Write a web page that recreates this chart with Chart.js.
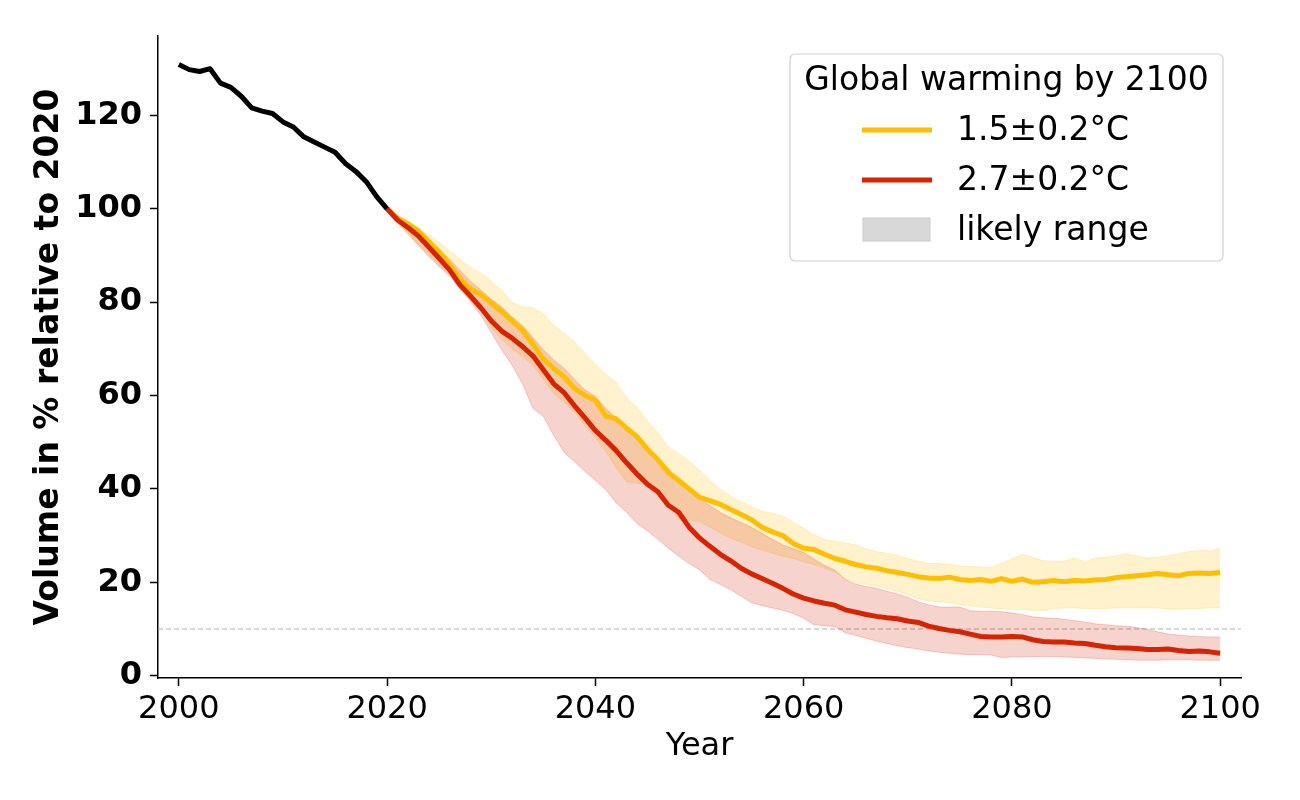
<!DOCTYPE html>
<html>
<head>
<meta charset="utf-8">
<title>Glacier volume projection</title>
<script src="https://cdn.jsdelivr.net/npm/chart.js@4.4.1/dist/chart.umd.min.js"></script>
<style>
    html, body { margin: 0; padding: 0; background: #fff; }
    #chart { display: block; }
</style>
</head>
<body>
<canvas id="chart" width="1300" height="800"></canvas>
<script>
// observed volume, % of 2020
const histYears = [2000, 2001, 2002, 2003, 2004, 2005, 2006, 2007, 2008, 2009, 2010,
    2011, 2012, 2013, 2014, 2015, 2016, 2017, 2018, 2019, 2020];
const histVolume = [130.9, 129.8, 129.4, 130.0, 126.9, 126.0, 124.1, 121.6, 120.9, 120.4, 118.6,
    117.5, 115.4, 114.3, 113.2, 112.1, 109.7, 108.0, 105.8, 102.6, 100];

// projections 2020-2100
const projYears = [2020, 2021, 2022, 2023, 2024, 2025, 2026, 2027, 2028, 2029,
    2030, 2031, 2032, 2033, 2034, 2035, 2036, 2037, 2038, 2039,
    2040, 2041, 2042, 2043, 2044, 2045, 2046, 2047, 2048, 2049,
    2050, 2051, 2052, 2053, 2054, 2055, 2056, 2057, 2058, 2059,
    2060, 2061, 2062, 2063, 2064, 2065, 2066, 2067, 2068, 2069,
    2070, 2071, 2072, 2073, 2074, 2075, 2076, 2077, 2078, 2079,
    2080, 2081, 2082, 2083, 2084, 2085, 2086, 2087, 2088, 2089,
    2090, 2091, 2092, 2093, 2094, 2095, 2096, 2097, 2098, 2099, 2100];

const low15Mean = [100, 98, 96.8, 95.3, 93, 90.8, 88, 85, 82.8, 81.6,
    79.8, 78, 76, 74, 71, 67.8, 65.8, 64, 61.5, 60,
    59, 55.6, 55, 53, 51.2, 48.5, 46.3, 43.5, 41.8, 40,
    38.2, 37.5, 36.7, 35.6, 34.5, 33.4, 31.8, 30.8, 30, 28.3,
    27.3, 27, 26, 25.1, 24.5, 23.8, 23.3, 23, 22.5, 22.1,
    21.7, 21.2, 20.9, 20.8, 21.1, 20.6, 20.4, 20.6, 20.2, 20.8,
    20.2, 20.7, 20.0, 20.1, 20.4, 20.1, 20.4, 20.3, 20.5, 20.6,
    21.0, 21.2, 21.4, 21.6, 21.9, 21.6, 21.4, 21.9, 22.0, 21.9, 22.1];
const low15Upper = [100, 98.5, 97, 95.6, 94.5, 92.8, 91, 89.2, 87.4, 86.3,
    84.5, 82.5, 80, 79, 78.8, 77.5, 75, 73.4, 71.5, 69,
    66.8, 64.5, 62.8, 59.5, 57.5, 54.5, 52, 49, 47.6, 46,
    44, 41.8, 40, 38.4, 37.2, 36.2, 35.2, 34.8, 34.2, 32.8,
    31.6, 30.2, 29.2, 28.8, 28.4, 28, 27.2, 26.6, 26.2, 25.8,
    25.1, 24.5, 24.1, 24.0, 23.8, 23.5, 23.4, 23.2, 23.1, 24.1,
    25.0, 26.0, 25.3, 24.6, 24.5, 24.5, 25.2, 24.4, 25.2, 25.4,
    25.7, 26.1, 25.7, 25.2, 25.4, 25.7, 26.1, 26.6, 26.8, 26.7, 27.3];
const low15Lower = [100, 96.8, 94.2, 92.4, 90.2, 88, 86, 83.6, 81, 78.5,
    74.5, 72, 70, 68.4, 66.5, 63.5, 60.5, 58.5, 56.5, 53.5,
    51, 48, 44.5, 41.5, 41.2, 41, 39.5, 37, 33.5, 33.3,
    33, 31.8, 30.6, 29.4, 28.6, 27.6, 26.9, 26.2, 25.6, 25.1,
    24.4, 23.8, 23, 22.2, 20.8, 19.9, 19.6, 19.2, 18.6, 18.1,
    17.3, 16.5, 16.0, 15.8, 15.6, 15.2, 14.9, 14.7, 14.5, 14.3,
    14.2, 14.1, 14.0, 13.9, 14.4, 14.5, 14.5, 14.4, 14.4, 14.4,
    14.5, 14.5, 14.5, 14.5, 14.5, 14.3, 14.3, 14.4, 14.4, 14.5, 14.5];

const high27Mean = [100, 97.6, 96, 94.2, 91.8, 89.4, 86.9, 83.7, 81.3, 78.8,
    76, 73.8, 72.3, 70.5, 68.5, 65.5, 62.5, 60.6, 57.8, 55.2,
    52.5, 50.4, 48.2, 45.6, 43.2, 41, 39.4, 36.5, 35, 31.8,
    29.5, 27.7, 26, 24.6, 23, 21.8, 20.8, 19.8, 18.7, 17.5,
    16.6, 16, 15.5, 15.1, 14.1, 13.6, 13.1, 12.7, 12.4, 12.2,
    11.7, 11.4, 10.6, 10.1, 9.7, 9.4, 8.9, 8.4, 8.3, 8.3,
    8.4, 8.3, 7.7, 7.3, 7.2, 7.2, 7.0, 6.9, 6.5, 6.2,
    6.0, 5.9, 5.8, 5.6, 5.6, 5.7, 5.4, 5.2, 5.3, 5.1, 4.8];
const high27Upper = [100, 98.6, 97.2, 95.8, 93.6, 91.2, 89.2, 86.8, 84.5, 82.6,
    80.6, 79, 76.8, 75, 72.4, 69.8, 67.6, 65.8, 63.4, 61.2,
    59.8, 57.2, 55.2, 52.6, 50.5, 48.5, 46.5, 44.5, 41.5, 39.5,
    38, 36.4, 35, 33.8, 32.8, 31.8, 30.5, 29.2, 28, 27.2,
    26.4, 25, 23.6, 22.6, 20.6, 19.6, 19.1, 18.7, 18.1, 17.5,
    16.8, 15.8, 15.2, 14.7, 14.7, 14.7, 13.9, 13.8, 13.8, 13.7,
    13.4, 13.1, 12.6, 12.4, 12.3, 12.1, 11.8, 11.5, 11.1, 10.9,
    10.7, 10.6, 10.3, 9.9, 9.4, 8.9, 8.7, 8.5, 8.4, 8.3, 8.3];
const high27Lower = [100, 97.2, 94.8, 92.2, 89.8, 87.6, 85.6, 82.8, 80.2, 77.2,
    73.5, 69.8, 66.5, 62.5, 57.3, 55.5, 51.5, 47.8, 45.8, 43.8,
    41.8, 39.8, 37, 35, 32.6, 31, 29.2, 27.3, 25.6, 24,
    22.7, 20.6, 19.5, 18.4, 17, 15.6, 15.0, 14.5, 14.0, 13.3,
    12.3, 10.9, 10.7, 10.5, 9.2, 8.6, 8.0, 7.4, 6.9, 6.4,
    6.0, 5.7, 5.3, 5.0, 4.8, 4.6, 4.5, 4.5, 4.4, 3.9,
    4.0, 4.0, 4.1, 4.1, 4.1, 4.0, 3.9, 3.8, 3.7, 3.6,
    3.5, 3.4, 3.3, 3.3, 3.3, 3.4, 3.4, 3.4, 3.3, 3.3, 3.3];

const xTicks = [2000, 2020, 2040, 2060, 2080, 2100];
const yTicks = [0, 20, 40, 60, 80, 100, 120];
const thresholdLevel = 10;

const legendTitle = 'Global warming by 2100';
const seriesLabels = ['1.5\u00b10.2\u00b0C', '2.7\u00b10.2\u00b0C', 'likely range'];

const FONT = '"DejaVu Sans", sans-serif';
const YELLOW = '#ffbf00';
const RED = '#d42400';
const YELLOW_BAND = 'rgba(255, 191, 0, 0.2)';
const RED_BAND = 'rgba(212, 36, 0, 0.2)';
const LINE_WIDTH = 5;

const toPoints = (years, values) => years.map((year, i) => ({x: year, y: values[i]}));

function lineSet(label, years, values, color, order) {
    return {
        label: label,
        data: toPoints(years, values),
        borderColor: color,
        borderWidth: LINE_WIDTH,
        borderJoinStyle: 'round',
        pointRadius: 0,
        fill: false,
        order: order
    };
}

function bandEdge(label, values, color, order, target) {
    return {
        label: label,
        data: toPoints(projYears, values),
        borderColor: color,
        borderWidth: 1,
        backgroundColor: color,
        pointRadius: 0,
        fill: target === undefined ? false : target,
        order: order
    };
}

// dashed reference line across the whole plot area
const thresholdPlugin = {
    id: 'threshold',
    beforeDatasetsDraw(chart) {
        const {ctx, chartArea, scales} = chart;
        const y = scales.y.getPixelForValue(thresholdLevel);
        ctx.save();
        ctx.strokeStyle = '#b0b0b0';
        ctx.lineWidth = 1;
        ctx.setLineDash([5, 3]);
        ctx.beginPath();
        ctx.moveTo(chartArea.left, y);
        ctx.lineTo(chartArea.right, y);
        ctx.stroke();
        ctx.restore();
    }
};

// matplotlib style legend box in the upper right corner
const legendPlugin = {
    id: 'warmingLegend',
    afterDraw(chart) {
        const {ctx, chartArea} = chart;
        const boxW = 433;
        const boxH = 207;
        const x0 = chartArea.right - 18 - boxW;
        const y0 = chartArea.top + 18;
        ctx.save();
        ctx.beginPath();
        ctx.roundRect(x0, y0, boxW, boxH, 5);
        ctx.fillStyle = 'rgba(255, 255, 255, 0.8)';
        ctx.fill();
        ctx.strokeStyle = '#d0d0d0';
        ctx.lineWidth = 1.2;
        ctx.stroke();

        ctx.fillStyle = '#000';
        ctx.font = '33px ' + FONT;
        ctx.textBaseline = 'middle';
        ctx.textAlign = 'center';
        ctx.fillText(legendTitle, x0 + boxW / 2, y0 + 27);

        ctx.textAlign = 'left';
        const rows = [y0 + 76, y0 + 126, y0 + 176];
        [YELLOW, RED].forEach((color, i) => {
            ctx.strokeStyle = color;
            ctx.lineWidth = LINE_WIDTH;
            ctx.beginPath();
            ctx.moveTo(x0 + 72, rows[i]);
            ctx.lineTo(x0 + 142, rows[i]);
            ctx.stroke();
        });
        ctx.fillStyle = '#d8d8d8';
        ctx.strokeStyle = '#cacaca';
        ctx.lineWidth = 1;
        ctx.fillRect(x0 + 73, rows[2] - 12, 67, 23);
        ctx.strokeRect(x0 + 73, rows[2] - 12, 67, 23);

        ctx.fillStyle = '#000';
        seriesLabels.forEach((label, i) => ctx.fillText(label, x0 + 167, rows[i] + 1));
        ctx.restore();
    }
};

const datasets = [
    lineSet('observed', histYears, histVolume, '#000', 0),
    lineSet(seriesLabels[1], projYears, high27Mean, RED, 1),
    lineSet(seriesLabels[0], projYears, low15Mean, YELLOW, 2),
    bandEdge('2.7 upper', high27Upper, RED_BAND, 3, 4),
    bandEdge('2.7 lower', high27Lower, RED_BAND, 4),
    bandEdge('1.5 upper', low15Upper, YELLOW_BAND, 5, 6),
    bandEdge('1.5 lower', low15Lower, YELLOW_BAND, 6)
];

new Chart(document.getElementById('chart'), {
    type: 'line',
    data: {datasets: datasets},
    plugins: [thresholdPlugin, legendPlugin],
    options: {
        responsive: false,
        animation: false,
        events: [],
        layout: {padding: {left: 0, top: 36, right: 59, bottom: 0}},
        plugins: {
            legend: {display: false},
            tooltip: {enabled: false}
        },
        scales: {
            x: {
                type: 'linear',
                min: 1998,
                max: 2102,
                afterBuildTicks: (axis) => { axis.ticks = xTicks.map(v => ({value: v})); },
                afterFit: (axis) => { axis.height = 122; },
                grid: {display: true, drawOnChartArea: false, drawTicks: true, tickLength: 8, tickWidth: 1.5, tickColor: '#000'},
                border: {display: true, color: '#000', width: 1.5},
                ticks: {
                    color: '#000',
                    font: {family: FONT, size: 32},
                    padding: 4,
                    maxRotation: 0,
                    autoSkip: false,
                    callback: (v) => String(v)
                },
                title: {
                    display: true,
                    text: 'Year',
                    color: '#000',
                    font: {family: FONT, size: 32},
                    padding: {top: 0, bottom: 34}
                }
            },
            y: {
                type: 'linear',
                min: -0.5,
                max: 137,
                afterBuildTicks: (axis) => { axis.ticks = yTicks.map(v => ({value: v})); },
                afterFit: (axis) => { axis.width = 158; },
                grid: {display: true, drawOnChartArea: false, drawTicks: true, tickLength: 8, tickWidth: 1.5, tickColor: '#000'},
                border: {display: true, color: '#000', width: 1.5},
                ticks: {
                    color: '#000',
                    font: {family: FONT, size: 32, weight: 'bold'},
                    padding: 8,
                    callback: (v) => String(v)
                },
                title: {
                    display: true,
                    text: 'Volume in % relative to 2020',
                    color: '#000',
                    font: {family: FONT, size: 33, weight: 'bold'},
                    padding: {top: 30, bottom: 0}
                }
            }
        }
    }
});
</script>
</body>
</html>
